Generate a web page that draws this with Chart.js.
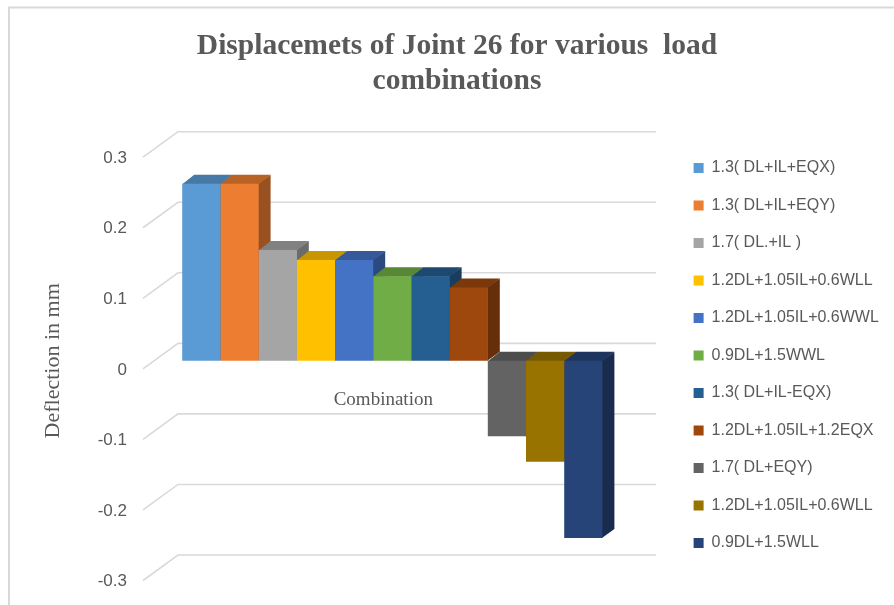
<!DOCTYPE html>
<html>
<head>
<meta charset="utf-8">
<title>Displacements of Joint 26</title>
<script src="https://cdn.jsdelivr.net/npm/chart.js@4"></script>
<style>
  html, body { margin: 0; padding: 0; background: #ffffff; }
  canvas { display: block; }
</style>
</head>
<body>
<canvas id="chart" width="894" height="605"></canvas>
<script>
// ---- data ----
const categories = ['Combination'];
const loadCombinations = [
  '1.3( DL+IL+EQX)',
  '1.3( DL+IL+EQY)',
  '1.7( DL.+IL )',
  '1.2DL+1.05IL+0.6WLL',
  '1.2DL+1.05IL+0.6WWL',
  '0.9DL+1.5WWL',
  '1.3( DL+IL-EQX)',
  '1.2DL+1.05IL+1.2EQX',
  '1.7( DL+EQY)',
  '1.2DL+1.05IL+0.6WLL',
  '0.9DL+1.5WLL'
];
const deflections = [0.251, 0.251, 0.157, 0.143, 0.143, 0.12, 0.12, 0.104, -0.107, -0.143, -0.251];
const yMin = -0.3;
const yMax = 0.3;
const yStep = 0.1;

const chartTitle = ['Displacemets of Joint 26 for various  load', 'combinations'];
const yAxisTitle = 'Deflection in mm';

// ---- styling ----
const barColors = ['#5B9BD5', '#ED7D31', '#A5A5A5', '#FFC000', '#4472C4', '#70AD47',
                   '#255E91', '#9E480E', '#636363', '#997300', '#264478'];
const TEXT = '#595959';
const GRID = '#d9d9d9';
const SANS = "'Liberation Sans', Arial, sans-serif";
const SERIF = "'Liberation Serif', 'Times New Roman', serif";

// geometry of the layout
const CANVAS_W = 894;
const PLOT_LEFT = 112.5;       // left edge of the chart area
const LEGEND_LEFT = 670.5;     // left edge of the legend box
const BAR_SPAN = 419;          // width taken by the group of columns
const TICK_RIGHT = 127;        // right edge of the value labels
const DEPTH_X = 12, DEPTH_Y = 9;  // oblique depth of each column
const LEGEND_FONT = 16;
const TICK_FONT = 17;

// text measurements used to place the legend and the value labels
const mctx = document.createElement('canvas').getContext('2d');
mctx.font = LEGEND_FONT + 'px ' + SANS;
const legendTextWidth = Math.max(...loadCombinations.map(s => mctx.measureText(s).width));
mctx.font = TICK_FONT + 'px ' + SANS;
const tickTextWidth = mctx.measureText('-0.3').width;

const padRight = CANVAS_W - LEGEND_LEFT - (legendTextWidth + 10 + LEGEND_FONT / 2 + 21.5 + 10);
const padLeft = padRight + 20;

function shade(hex, f) {
  const n = parseInt(hex.slice(1), 16);
  const r = Math.round(((n >> 16) & 255) * f);
  const g = Math.round(((n >> 8) & 255) * f);
  const b = Math.round((n & 255) * f);
  return 'rgb(' + r + ',' + g + ',' + b + ')';
}

// Draws the frame, the floor/back-wall grid and the top and side faces of the columns;
// the front faces are the ordinary bar elements drawn by Chart.js afterwards.
const columns3d = {
  id: 'columns3d',
  beforeDraw(chart) {
    const ctx = chart.ctx;
    ctx.save();
    ctx.strokeStyle = GRID;
    ctx.lineWidth = 2;
    ctx.beginPath();
    ctx.moveTo(8, 7.5); ctx.lineTo(chart.width, 7.5);
    ctx.moveTo(9, 7); ctx.lineTo(9, chart.height);
    ctx.stroke();
    ctx.restore();
  },
  beforeDatasetsDraw(chart) {
    const {ctx, chartArea: a, scales: {y}} = chart;
    ctx.save();
    ctx.strokeStyle = GRID;
    ctx.lineWidth = 1.6;
    y.ticks.forEach(t => {
      const p = y.getPixelForValue(t.value);
      ctx.beginPath();
      ctx.moveTo(a.left + 30.5, p + 8);
      ctx.lineTo(a.left + 65.5, p - 17.5);
      ctx.lineTo(a.right - 16, p - 17.5);
      ctx.stroke();
    });
    chart.data.datasets.forEach((ds, i) => {
      const meta = chart.getDatasetMeta(i);
      meta.data.forEach(bar => {
        const {x, y: yv, base, width} = bar.getProps(['x', 'y', 'base', 'width'], true);
        const l = x - width / 2, r = x + width / 2;
        const up = Math.min(yv, base), lo = Math.max(yv, base);
        ctx.fillStyle = shade(ds.backgroundColor, 0.65);
        ctx.beginPath();
        ctx.moveTo(r - 0.5, up);
        ctx.lineTo(r + DEPTH_X, up - DEPTH_Y);
        ctx.lineTo(r + DEPTH_X, lo - DEPTH_Y);
        ctx.lineTo(r - 0.5, lo);
        ctx.closePath();
        ctx.fill();
        ctx.fillStyle = shade(ds.backgroundColor, 0.78);
        ctx.beginPath();
        ctx.moveTo(l, up + 0.5);
        ctx.lineTo(l + DEPTH_X, up - DEPTH_Y);
        ctx.lineTo(r + DEPTH_X, up - DEPTH_Y);
        ctx.lineTo(r, up + 0.5);
        ctx.closePath();
        ctx.fill();
      });
    });
    ctx.restore();
  }
};

new Chart(document.getElementById('chart'), {
  type: 'bar',
  data: {
    labels: categories,
    datasets: loadCombinations.map((name, i) => ({
      label: name,
      data: [deflections[i]],
      backgroundColor: barColors[i],
      borderWidth: 0
    }))
  },
  options: {
    responsive: false,
    devicePixelRatio: 1,
    animation: false,
    categoryPercentage: BAR_SPAN / (LEGEND_LEFT - PLOT_LEFT),
    barPercentage: 1,
    layout: { padding: { left: padLeft, right: padRight, top: 10, bottom: 32.5 } },
    plugins: {
      tooltip: { enabled: false },
      title: {
        display: true,
        text: chartTitle,
        color: TEXT,
        font: { family: SERIF, size: 29.5, weight: 'bold', lineHeight: '35px' },
        padding: { top: 18.5, bottom: 50.7 }
      },
      legend: {
        position: 'right',
        align: 'end',
        labels: {
          boxWidth: 10,
          boxHeight: 10,
          padding: 21.5,
          color: TEXT,
          font: { family: SANS, size: LEGEND_FONT }
        }
      }
    },
    scales: {
      x: {
        type: 'category',
        position: { y: 0 },
        grid: { display: false },
        border: { display: false },
        ticks: {
          padding: 19.75,
          labelOffset: -9,
          color: TEXT,
          font: { family: SERIF, size: 19 }
        }
      },
      y: {
        min: yMin,
        max: yMax,
        grid: { display: false },
        border: { display: false },
        ticks: {
          stepSize: yStep,
          mirror: true,
          crossAlign: 'far',
          padding: TICK_RIGHT - PLOT_LEFT - tickTextWidth,
          labelOffset: 9,
          color: TEXT,
          font: { family: SANS, size: TICK_FONT }
        },
        title: {
          display: true,
          text: yAxisTitle,
          color: TEXT,
          font: { family: SERIF, size: 22 },
          padding: { top: 53 - padLeft - 13.2, bottom: 0 }
        },
        afterFit(scale) { scale.width = PLOT_LEFT - padLeft; }
      }
    }
  },
  plugins: [columns3d]
});
</script>
</body>
</html>
